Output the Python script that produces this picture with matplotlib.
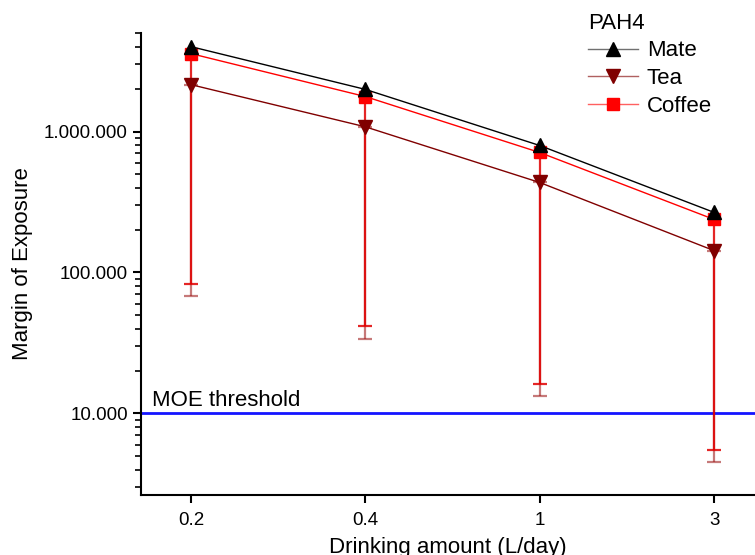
import matplotlib
matplotlib.use("Agg")
import matplotlib.pyplot as plt
from matplotlib.ticker import FixedLocator, LogLocator, FuncFormatter, NullFormatter
import numpy as np

plt.rcParams['font.family'] = ['Liberation Sans', 'DejaVu Sans']

categories = ["0.2", "0.4", "1", "3"]
mate = [4.0e6, 1.99e6, 7.96e5, 2.67e5]
tea = [2.15e6, 1.08e6, 4.35e5, 1.43e5]
coffee = [3.57e6, 1.77e6, 7.1e5, 2.38e5]
coffee_low = [82200, 41400, 16300, 5470]
tea_low = [67600, 33500, 13400, 4490]
moe_threshold = 10000

x = np.arange(len(categories))

fig = plt.figure(figsize=(7.55, 5.55), dpi=100)
ax = fig.add_axes([141/755, 1-495/555, 1-141/755, (495-33)/555])

ax.set_yscale('log')

# error bars (lower only)
ax.errorbar(x, tea, yerr=[np.array(tea) - np.array(tea_low), np.zeros(4)],
            fmt='none', ecolor='#a02020', elinewidth=1.6, capsize=5, capthick=1.6, alpha=0.6, zorder=2)
ax.errorbar(x, coffee, yerr=[np.array(coffee) - np.array(coffee_low), np.zeros(4)],
            fmt='none', ecolor='#e00000', elinewidth=1.6, capsize=5, capthick=1.6, alpha=0.85, zorder=2)

ax.plot(x, mate, color='black', lw=1.0, marker='^', ms=10, mec='black', mfc='black', label='Mate', zorder=4)
ax.plot(x, tea, color='#800000', lw=1.0, marker='v', ms=10, mec='#800000', mfc='#800000', label='Tea', zorder=3)
ax.plot(x, coffee, color='#ff0000', lw=1.0, marker='s', ms=8, mec='#ff0000', mfc='#ff0000', label='Coffee', zorder=3)

ax.axhline(moe_threshold, color='#1414ff', lw=2, zorder=1)
ax.text(0.018, moe_threshold * 1.04, 'MOE threshold', transform=ax.get_yaxis_transform(),
        fontsize=16, va='bottom', ha='left')

ax.set_xlim(-0.287, 3.235)
ax.set_ylim(2640, 5.0e6)

ax.set_xticks(x)
ax.set_xticklabels(categories, fontsize=13.5)
ax.yaxis.set_major_locator(FixedLocator([1e4, 1e5, 1e6]))
ax.yaxis.set_minor_locator(LogLocator(base=10, subs=np.arange(2, 10)))
ax.yaxis.set_major_formatter(FuncFormatter(lambda v, p: f"{int(round(v)):,}".replace(',', '.')))
ax.yaxis.set_minor_formatter(NullFormatter())
ax.tick_params(axis='y', which='major', labelsize=13.5, length=6, width=1.5, direction='out')
ax.tick_params(axis='y', which='minor', length=4, width=1.2, direction='out')
ax.tick_params(axis='x', which='major', length=6, width=1.5, direction='out', pad=6)

for s in ['top', 'right']:
    ax.spines[s].set_visible(False)
for s in ['left', 'bottom']:
    ax.spines[s].set_linewidth(1.5)

ax.set_xlabel('Drinking amount (L/day)', fontsize=16, labelpad=6)
ax.set_ylabel('Margin of Exposure', fontsize=16, labelpad=8)

leg = fig.legend(loc='upper left', bbox_to_anchor=(570/755, 1+5/555), frameon=False,
                 title='PAH4', fontsize=16, title_fontsize=16, handlelength=2.25,
                 handletextpad=0.4, labelspacing=0.3, alignment='left', borderpad=0.3)
light = ['#707070', '#b06060', '#ff6060']
for h, c in zip(leg.legend_handles, light):
    h.set_color(c)
for h, c in zip(leg.legend_handles, ['black', '#800000', '#ff0000']):
    h.set_markerfacecolor(c)
    h.set_markeredgecolor(c)

fig.savefig('out.png', dpi=100)
